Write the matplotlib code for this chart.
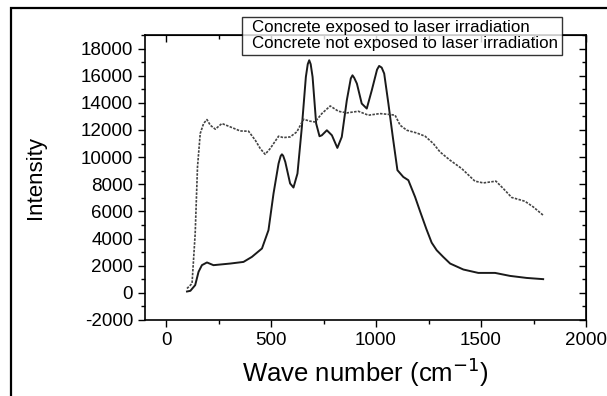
import matplotlib
matplotlib.use("Agg")
import matplotlib.pyplot as plt
from matplotlib.patches import Rectangle
from matplotlib.lines import Line2D
from matplotlib.ticker import MultipleLocator

plt.rcParams['font.family'] = ['Liberation Sans', 'DejaVu Sans']
plt.rcParams['axes.unicode_minus'] = False

# solid curve (sharp peaks)
wn_solid = [100, 116, 139, 155, 171, 195, 226, 306, 369, 409, 457, 488, 512, 536, 546,
            552, 558, 568, 591, 607, 626, 647, 666, 675, 682, 689, 698, 715, 731, 742,
            766, 790, 816, 837, 861, 880, 888, 896, 909, 932, 956, 980, 1005, 1015, 1027,
            1039, 1059, 1080, 1102, 1130, 1154, 1186, 1210, 1240, 1265, 1289, 1320, 1353,
            1416, 1487, 1567, 1638, 1717, 1796]
int_solid = [100, 150, 570, 1550, 2040, 2240, 2040, 2160, 2280, 2650, 3270, 4620, 7320,
             9530, 10080, 10210, 10100, 9650, 8060, 7760, 8790, 12230, 15910, 16850,
             17140, 16850, 15910, 12480, 11540, 11610, 11980, 11610, 10680, 11490, 14190,
             15800, 16030, 15850, 15420, 13950, 13580, 14930, 16450, 16720, 16600, 16160,
             13950, 11490, 9040, 8540, 8300, 7070, 6000, 4700, 3700, 3140, 2650, 2160,
             1720, 1470, 1470, 1250, 1100, 1010]

# dotted curve (broad band)
wn_dot = [100, 124, 139, 150, 163, 179, 195, 211, 235, 266, 306, 353, 393, 425, 449,
          472, 496, 536, 559, 591, 623, 655, 686, 710, 742, 782, 821, 861, 916, 964,
          1019, 1067, 1091, 1115, 1147, 1194, 1234, 1273, 1305, 1353, 1408, 1471, 1511,
          1571, 1606, 1646, 1709, 1749, 1796]
int_dot = [320, 690, 4370, 9280, 11740, 12480, 12770, 12350, 12060, 12480, 12230, 11930,
           11910, 11250, 10630, 10210, 10630, 11540, 11440, 11490, 11860, 12790, 12650,
           12590, 13210, 13770, 13380, 13260, 13380, 13090, 13210, 13140, 13090, 12350,
           11980, 11780, 11540, 11000, 10380, 9770, 9160, 8230, 8100, 8230, 7690, 7030,
           6750, 6330, 5720]

legend_labels = ["Concrete exposed to laser irradiation",
                 "Concrete not exposed to laser irradiation"]

fig = plt.figure(figsize=(6.07, 3.96), dpi=100)
ax = fig.add_axes([145/607, 76/396, 441/607, 285/396])

# outer frame of the original figure
fig.add_artist(Rectangle((11/607, -0.1), 1.2, 0.1 + (396-8)/396, transform=fig.transFigure,
                         fill=False, ec='black', lw=1.6))

ax.plot(wn_solid, int_solid, color='#1a1a1a', lw=1.4)
ax.plot(wn_dot, int_dot, color='#444444', lw=1.2, ls=(0, (1.5, 0.8)))

ax.set_xlim(-100, 2000)
ax.set_ylim(-2000, 19000)
ax.xaxis.set_major_locator(MultipleLocator(500))
ax.xaxis.set_minor_locator(MultipleLocator(250))
ax.yaxis.set_major_locator(MultipleLocator(2000))
ax.yaxis.set_minor_locator(MultipleLocator(1000))
ax.tick_params(which='both', direction='out', labelsize=13.5, width=1)
ax.tick_params(which='major', length=5)
ax.tick_params(which='minor', length=3)
for spine in ax.spines.values():
    spine.set_linewidth(1.2)

# mirrored inward ticks on top and right
top = ax.secondary_xaxis('top')
top.xaxis.set_major_locator(MultipleLocator(500))
top.xaxis.set_minor_locator(MultipleLocator(250))
top.tick_params(which='both', direction='in', labeltop=False, width=1)
top.tick_params(which='major', length=5)
top.tick_params(which='minor', length=3)
right = ax.secondary_yaxis('right')
right.yaxis.set_major_locator(MultipleLocator(2000))
right.yaxis.set_minor_locator(MultipleLocator(1000))
right.tick_params(which='both', direction='in', labelright=False, width=1)
right.tick_params(which='major', length=5)
right.tick_params(which='minor', length=3)

ax.set_xlabel("Wave number (cm$^{-1}$)", fontsize=18.5, labelpad=5)
ax.set_ylabel("Intensity", fontsize=16, labelpad=25)

# legend without visible handles
blank = [Line2D([], [], alpha=0) for _ in legend_labels]
leg = ax.legend(blank, legend_labels, handlelength=0.4, handletextpad=0,
                loc='upper center', bbox_to_anchor=(0.583, 1.063), fontsize=12.2,
                frameon=True, fancybox=False, edgecolor='black', borderpad=0.2,
                labelspacing=0.05, borderaxespad=0)
leg.get_frame().set_linewidth(1.0)
leg.set_zorder(10)

fig.savefig("out.png", dpi=100)
